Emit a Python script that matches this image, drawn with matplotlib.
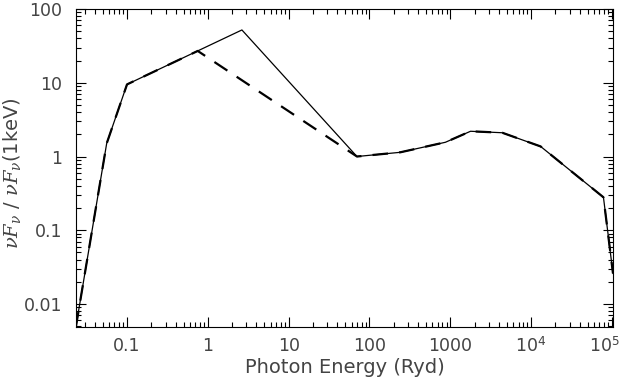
import matplotlib
matplotlib.use('Agg')
import matplotlib.pyplot as plt
import matplotlib.ticker as mticker
import matplotlib.transforms as mtransforms
import numpy as np

# SED points (energy in Ryd, nuFnu normalised at 1 keV)
e_solid = [0.0233, 0.056, 0.1, 2.64, 70, 240, 870, 1780, 4400, 13100, 78500, 1.03e5]
f_solid = [0.0049, 1.5, 9.5, 52, 1.0, 1.14, 1.56, 2.2, 2.1, 1.37, 0.28, 0.026]

e_dash = [0.0233, 0.056, 0.1, 0.75, 70, 240, 870, 1780, 4400, 13100, 78500, 1.03e5]
f_dash = [0.0049, 1.5, 9.5, 27, 1.0, 1.14, 1.56, 2.2, 2.1, 1.37, 0.28, 0.026]

xticks = [0.1, 1, 10, 100, 1000, 1e4, 1e5]
xlabels = ['0.1', '1', '10', '100', '1000', r'$10^4$', r'$10^5$']
yticks = [0.01, 0.1, 1, 10, 100]
ylabels = ['0.01', '0.1', '1', '10', '100']

plt.rcParams['font.family'] = ['DejaVu Sans']
plt.rcParams['mathtext.fontset'] = 'custom'
plt.rcParams['mathtext.rm'] = 'DejaVu Sans'
plt.rcParams['mathtext.it'] = 'DejaVu Serif:italic'

txtcol = '#444444'

fig = plt.figure(figsize=(6.22, 3.82), dpi=100)
ax = fig.add_axes([0.122, 0.144, 0.8635, 0.8324])

ax.plot(e_solid, f_solid, color='black', lw=0.9)
ax.plot(e_dash, f_dash, color='black', lw=1.6, dashes=(7, 5))

ax.set_xscale('log')
ax.set_yscale('log')
ax.set_xlim(0.0233, 1.03e5)
ax.set_ylim(0.00488, 100)

ax.set_xticks(xticks)
ax.set_xticklabels(xlabels)
ax.set_yticks(yticks)
ax.set_yticklabels(ylabels)
ax.xaxis.set_minor_locator(mticker.LogLocator(base=10, subs=np.arange(2, 10)))
ax.yaxis.set_minor_locator(mticker.LogLocator(base=10, subs=np.arange(2, 10)))
ax.xaxis.set_minor_formatter(mticker.NullFormatter())
ax.yaxis.set_minor_formatter(mticker.NullFormatter())

ax.tick_params(which='both', direction='in', top=True, right=True,
               labelsize=12.5, labelcolor=txtcol, width=0.8)
ax.tick_params(which='major', length=7)
ax.tick_params(axis='x', which='major', pad=7)
ax.tick_params(axis='y', which='major', pad=10)
ax.tick_params(which='minor', length=3.5)
for s in ax.spines.values():
    s.set_linewidth(0.8)

# nudge the last x label left so it stays inside the figure
lab = ax.get_xticklabels()[-1]
lab.set_transform(lab.get_transform() + mtransforms.ScaledTranslation(-8/100, 0, fig.dpi_scale_trans))

ax.set_xlabel('Photon Energy (Ryd)', fontsize=14, color=txtcol, labelpad=1)
fig.text(12/622, 0.547, r'$\nu F_\nu$ / $\nu F_\nu$(1keV)', fontsize=14, color=txtcol,
         rotation=90, ha='center', va='center')

plt.savefig('out.png', dpi=100)
